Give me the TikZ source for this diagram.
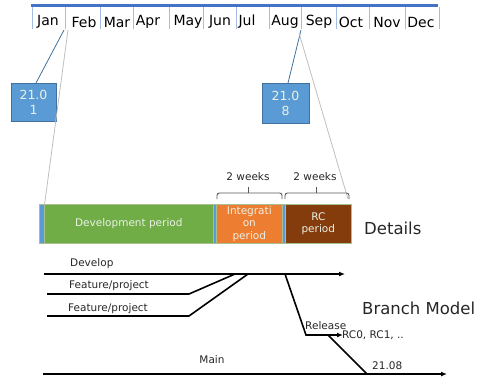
\documentclass[tikz,border=0pt]{standalone}
\usepackage{fontspec}
\setmainfont{DejaVu Sans}
\usetikzlibrary{arrows.meta}
\definecolor{topblue}{HTML}{4472C4}
\definecolor{sepblue}{HTML}{A4BCE6}
\definecolor{boxblue}{HTML}{5B9BD5}
\definecolor{boxedge}{HTML}{41719C}
\definecolor{devgreen}{HTML}{70AD47}
\definecolor{intorange}{HTML}{ED7D31}
\definecolor{rcbrown}{HTML}{843C0C}
\definecolor{baredge}{HTML}{A8C090}
\definecolor{txtdark}{HTML}{262626}
\definecolor{lighttxt}{HTML}{EAF1E4}
\tikzset{
  month/.style={font=\fontsize{14}{16}\selectfont, inner sep=0pt, anchor=center},
  relbox/.style={draw=boxedge, line width=0.8pt, fill=boxblue, text=lighttxt, align=center,
    font=\fontsize{12.5}{15}\selectfont, inner sep=0pt, anchor=center},
  seg/.style={draw=baredge, line width=0.6pt, inner sep=0pt, anchor=north west, text=lighttxt,
    align=center, font=\fontsize{10.5}{12.5}\selectfont},
  callout/.style={draw=boxedge, line width=0.8pt},
  zoomline/.style={draw=black!25, line width=0.8pt},
  bracket/.style={draw=black!65, line width=0.9pt, rounded corners=2.5pt},
  smalllbl/.style={font=\fontsize{10.5}{12.5}\selectfont, text=txtdark, inner sep=0pt},
  biglbl/.style={font=\fontsize{16.5}{20}\selectfont, text=txtdark, inner sep=0pt, anchor=west},
  branch/.style={draw=black, line width=1.6pt},
  tip/.style={-{Latex[length=6pt,width=5pt]}}
}
\begin{document}
\begin{tikzpicture}[x=1pt,y=-1pt]
\useasboundingbox (0,0) rectangle (478,377);
% timeline
\draw[topblue, line width=3pt] (31,6) -- (438,6);
\foreach \x in {32,65,100,133,169,203,236,269,301,336,369,405,439}
  \draw[sepblue, line width=1pt] (\x,7.5) -- (\x,29);
\node[month] (jan) at (48,22) {Jan};
\node[month] (feb) at (84,22) {Feb};
\node[month] (mar) at (117,22) {Mar};
\node[month] (apr) at (148,22) {Apr};
\node[month] (may) at (188,22) {May};
\node[month] (jun) at (220,22) {Jun};
\node[month] (jul) at (247,22) {Jul};
\node[month] (aug) at (285,22) {Aug};
\node[month] (sep) at (319,22) {Sep};
\node[month] (oct) at (351,22) {Oct};
\node[month] (nov) at (387,22) {Nov};
\node[month] (dec) at (421,22) {Dec};
% release boxes
\node[relbox, minimum width=45pt, minimum height=38pt] (r1) at (33.5,102) {21.0\\1};
\node[relbox, minimum width=47pt, minimum height=40pt] (r8) at (285.5,103) {21.0\\8};
\coordinate (janend) at (64,30);
\coordinate (augend) at (301,30);
\draw[callout] (janend) -- (36,83);
\draw[callout] (augend) -- (288,83);
% detail bar
\node[seg, fill=boxblue, minimum width=5pt, minimum height=39pt] (s0) at (39,204) {};
\node[seg, fill=devgreen, minimum width=169pt, minimum height=39pt] (dev) at (44,204) {Development period};
\node[seg, fill=boxblue, minimum width=3pt, minimum height=39pt] (s1) at (213,204) {};
\node[seg, fill=intorange, minimum width=66pt, minimum height=39pt] (integ) at (216,204) {Integrati\\on\\period};
\node[seg, fill=boxblue, minimum width=3pt, minimum height=39pt] (s2) at (282,204) {};
\node[seg, fill=rcbrown, minimum width=66pt, minimum height=39pt] (rc) at (285,204) {RC\\period};
% zoom lines
\coordinate (febstart) at (68,30);
\coordinate (sepstart) at (299,33);
\draw[zoomline] (febstart) -- (s0.north east);
\draw[zoomline] (sepstart) -- (348,199);
% brackets
\draw[bracket] (217,199) |- (248,193);
\draw[bracket] (248,193) -| (282,199);
\draw[bracket, rounded corners=0pt] (248,193) -- (248,187);
\draw[bracket] (285,199) |- (316,193);
\draw[bracket] (316,193) -| (349,199);
\draw[bracket, rounded corners=0pt] (316,193) -- (316,187);
\node[smalllbl] (w1) at (248,177) {2 weeks};
\node[smalllbl] (w2) at (315,177) {2 weeks};
\node[biglbl] (details) at (364,228) {Details};
% branch model
\coordinate (d0) at (44,274);
\coordinate (d1) at (345,274);
\coordinate (f1a) at (47,294);
\coordinate (f1b) at (189,294);
\coordinate (f1c) at (235,274);
\coordinate (f2a) at (47,316);
\coordinate (f2b) at (189,316);
\coordinate (f2c) at (248,274);
\coordinate (ra) at (285,274);
\coordinate (rb) at (306,335);
\coordinate (rc1) at (343,335);
\coordinate (rd) at (328,335);
\coordinate (me) at (367,374);
\coordinate (m0) at (43,374);
\coordinate (m1) at (447,374);
\draw[branch, tip] (d0) -- (d1);
\draw[branch] (f1a) -- (f1b) -- (f1c);
\draw[branch] (f2a) -- (f2b) -- (f2c);
\draw[branch, tip] (ra) -- (rb) -- (rc1);
\draw[branch] (rd) -- (me);
\draw[branch, tip] (m0) -- (m1);
\node[smalllbl, anchor=west] (ldev) at (70,264) {Develop};
\node[smalllbl, anchor=west] (lf1) at (69,286) {Feature/project};
\node[smalllbl, anchor=west] (lf2) at (68,309) {Feature/project};
\node[smalllbl, anchor=west] (lrel) at (305,326) {Release};
\node[smalllbl, anchor=west] (lrc) at (342,335) {RC0, RC1, ..};
\node[smalllbl] (lmain) at (212,360) {Main};
\node[smalllbl, anchor=west] (l2108) at (372,366) {21.08};
\node[biglbl] (bm) at (362,308) {Branch Model};
\end{tikzpicture}
\end{document}
